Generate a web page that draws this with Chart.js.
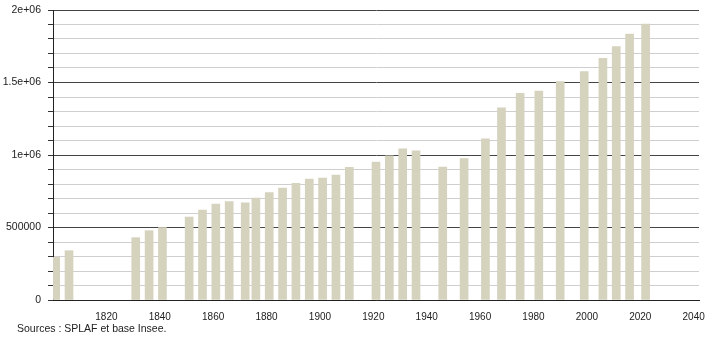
<!DOCTYPE html>
<html>
<head>
<meta charset="utf-8">
<script src="https://cdn.jsdelivr.net/npm/chart.js@4/dist/chart.umd.min.js"></script>
<style>
  html, body { margin: 0; padding: 0; background: #fff; }
  #wrap { position: relative; width: 710px; height: 340px; }
  #c { position: absolute; left: 0; top: 0; }
  #src { position: absolute; left: 17px; top: 322px; font: 10.5px "Liberation Sans", Arial, sans-serif; color: #222; white-space: nowrap; }
</style>
</head>
<body>
<div id="wrap">
  <canvas id="c" width="710" height="340"></canvas>
  <div id="src">Sources : SPLAF et base Insee.</div>
</div>
<script>
const years = [1801, 1806, 1831, 1836, 1841, 1851, 1856, 1861, 1866, 1872, 1876, 1881, 1886, 1891, 1896, 1901, 1906, 1911, 1921, 1926, 1931, 1936, 1946, 1954, 1962, 1968, 1975, 1982, 1990, 1999, 2006, 2011, 2016, 2022];
const population = [294000, 340000, 430000, 478000, 500000, 572000, 621000, 662000, 678000, 671000, 703000, 740000, 772000, 805000, 834000, 841000, 862000, 915000, 952000, 995000, 1043000, 1028000, 917000, 975000, 1112000, 1326000, 1425000, 1441000, 1506000, 1575000, 1667000, 1747000, 1834000, 1903000];
const xTickValues = [1820, 1840, 1860, 1880, 1900, 1920, 1940, 1960, 1980, 2000, 2020, 2040];
const yTickValues = [0, 500000, 1000000, 1500000, 2000000];
const yTickLabels = ["0", "500000", "1e+06", "1.5e+06", "2e+06"];

const points = years.map((y, i) => ({ x: y, y: population[i] }));

new Chart(document.getElementById('c'), {
  type: 'bar',
  data: {
    datasets: [{
      data: points,
      backgroundColor: 'rgb(213,210,190)',
      borderWidth: 0,
      barThickness: 8
    }]
  },
  options: {
    responsive: false,
    animation: false,
    layout: { padding: { left: 0, right: 11, top: 10, bottom: 20 } },
    plugins: { legend: { display: false }, tooltip: { enabled: false } },
    scales: {
      x: {
        type: 'linear',
        offset: false,
        min: 1800,
        max: 2042,
        afterBuildTicks: (s) => { s.ticks = xTickValues.map(v => ({ value: v })); },
        afterFit: (s) => { s.height = 20; },
        grid: { display: false, offset: false },
        border: { display: true, color: '#222', width: 1 },
        ticks: {
          autoSkip: false,
          maxRotation: 0,
          padding: 3,
          color: '#222',
          font: { family: '"Liberation Sans", Arial, sans-serif', size: 10 },
          callback: (v) => String(v)
        }
      },
      y: {
        min: 0,
        max: 2000000,
        afterFit: (s) => { s.width = 53; s.paddingTop = 0; },
        grid: {
          color: (ctx) => (ctx.tick && ctx.tick.value % 500000 === 0) ? '#444' : '#cfcfcf',
          tickColor: '#333',
          tickLength: 5,
          lineWidth: 1
        },
        border: { display: true, color: '#222', width: 1 },
        ticks: {
          stepSize: 100000,
          autoSkip: false,
          padding: 7,
          color: '#222',
          font: { family: '"Liberation Sans", Arial, sans-serif', size: 10.5 },
          callback: (v) => {
            const i = yTickValues.indexOf(v);
            return i >= 0 ? yTickLabels[i] : '';
          }
        }
      }
    }
  }
});
</script>
</body>
</html>
